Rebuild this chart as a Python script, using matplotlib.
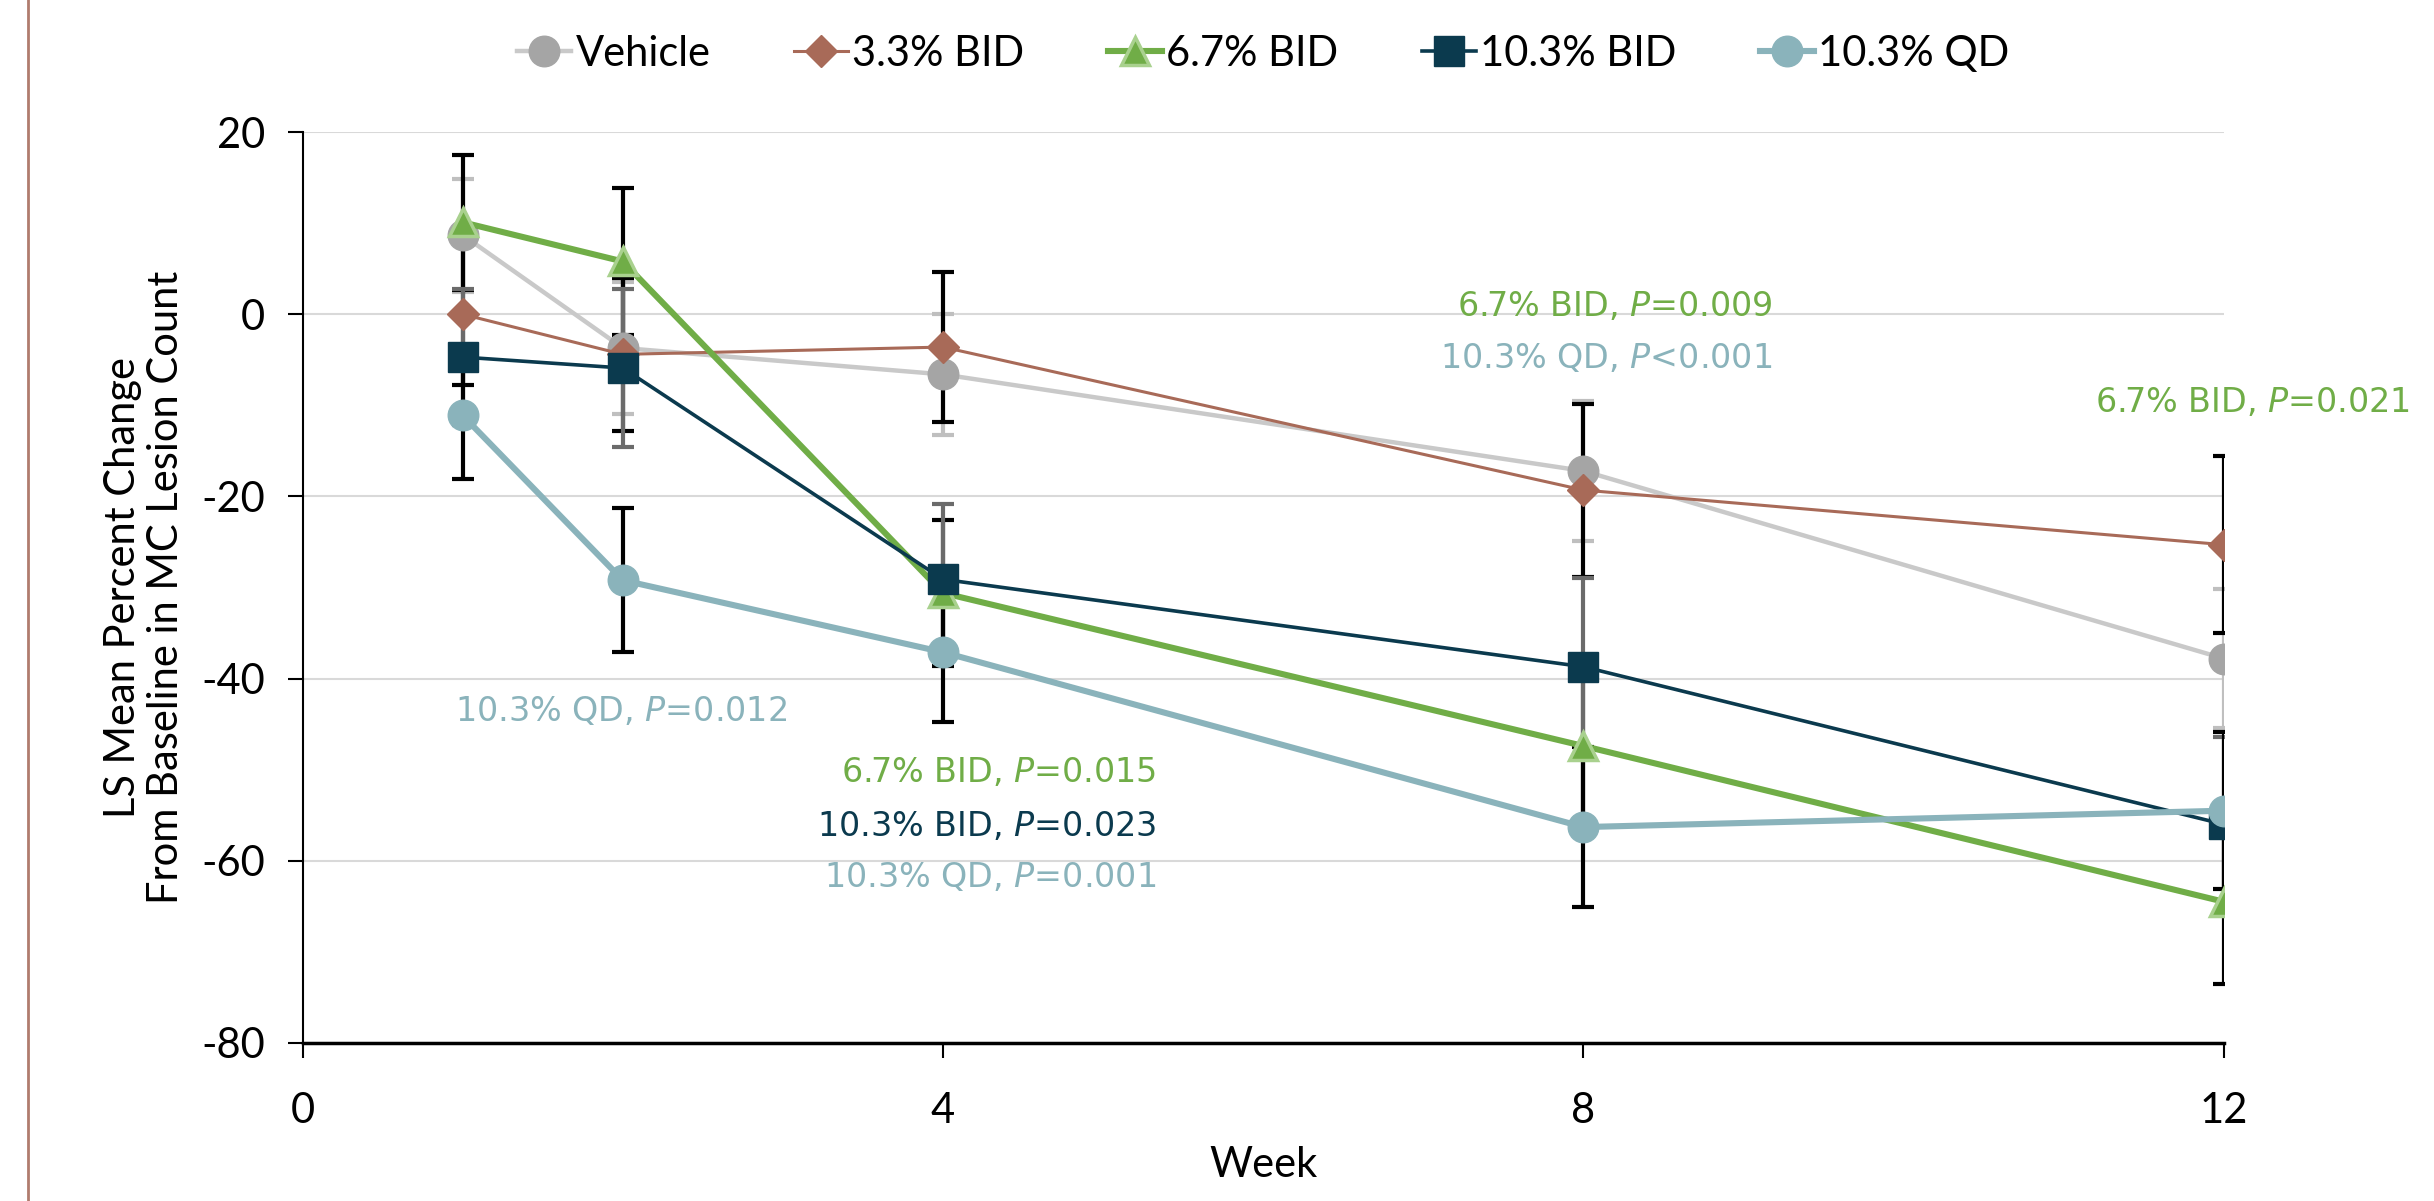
import matplotlib
matplotlib.use("Agg")
import matplotlib.pyplot as plt
from matplotlib.lines import Line2D

# data
weeks = [1, 2, 4, 8, 12]

vehicle = [8.7, -3.7, -6.6, -17.2, -37.8]
vehicle_se = [6.2, 7.2, 6.6, 7.7, 7.6]

bid_33 = [0.0, -4.4, -3.6, -19.3, -25.3]
bid_33_se = [7.8, 8.4, 8.2, 9.5, 9.7]

bid_67 = [10.1, 5.8, -30.6, -47.4, -64.5]
bid_67_se = [7.4, 8.1, 8.0, 9.0, 9.0]

bid_103 = [-4.7, -5.9, -29.1, -38.7, -56.0]
bid_103_se = [7.5, 8.7, 8.3, 9.7, 9.6]

qd_103 = [-11.1, -29.2, -37.1, -56.3, -54.5]
qd_103_se = [7.0, 7.9, 7.7, 8.8, 8.6]

labels = ["Vehicle", "3.3% BID", "6.7% BID", "10.3% BID", "10.3% QD"]
x_ticks = [0, 4, 8, 12]
y_ticks = [-80, -60, -40, -20, 0, 20]

# p-value notes: (x, y, text, colour key, alignment)
notes = [
    (9.18, 0.9, r"6.7% BID, $\mathit{P}$=0.009", "g", "right"),
    (9.18, -4.9, r"10.3% QD, $\mathit{P}$<0.001", "q", "right"),
    (13.16, -9.7, r"6.7% BID, $\mathit{P}$=0.021", "g", "right"),
    (0.95, -43.6, r"10.3% QD, $\mathit{P}$=0.012", "q", "left"),
    (5.33, -50.3, r"6.7% BID, $\mathit{P}$=0.015", "g", "right"),
    (5.33, -56.2, r"10.3% BID, $\mathit{P}$=0.023", "n", "right"),
    (5.33, -61.8, r"10.3% QD, $\mathit{P}$=0.001", "q", "right"),
]

c_veh_line = "#c9c9c9"
c_veh_mark = "#a5a5a5"
c_brown = "#a86a58"
c_green = "#70ad47"
c_green_edge = "#a9d18e"
c_navy = "#0b3a4e"
c_qd = "#8ab3bb"
note_colors = {"g": c_green, "q": c_qd, "n": c_navy}

plt.rcParams["axes.unicode_minus"] = False
plt.rcParams["font.family"] = ["Lato", "DejaVu Sans"]

fig = plt.figure(figsize=(24.34, 12.01), dpi=100)
ax = fig.add_axes([0.1243, 0.1316, 0.7894, 0.7584])

# error bars behind the lines
err_sets = [
    (vehicle, vehicle_se, "#bfbfbf"),
    (bid_33, bid_33_se, "black"),
    (bid_67, bid_67_se, "black"),
    (bid_103, bid_103_se, "#6b6b6b"),
    (qd_103, qd_103_se, "black"),
]
for vals, se, col in err_sets:
    ax.errorbar(weeks, vals, yerr=se, fmt="none", ecolor=col,
                elinewidth=3, capsize=8, capthick=3, zorder=2)

ax.plot(weeks, vehicle, color=c_veh_line, lw=3.2, marker="o", ms=22,
        mfc=c_veh_mark, mec=c_veh_mark, label=labels[0], zorder=3)
ax.plot(weeks, bid_33, color=c_brown, lw=2.2, marker="D", ms=16,
        mfc=c_brown, mec=c_brown, label=labels[1], zorder=4)
ax.plot(weeks, bid_67, color=c_green, lw=4.4, marker="^", ms=20,
        mfc=c_green, mec=c_green_edge, mew=2.5, label=labels[2], zorder=5)
ax.plot(weeks, bid_103, color=c_navy, lw=2.6, marker="s", ms=21,
        mfc=c_navy, mec=c_navy, label=labels[3], zorder=6)
ax.plot(weeks, qd_103, color=c_qd, lw=4.4, marker="o", ms=22,
        mfc=c_qd, mec=c_qd, label=labels[4], zorder=7)

for x, y, txt, ck, ha in notes:
    ax.text(x, y, txt, color=note_colors[ck], ha=ha, va="center",
            fontsize=24, family="DejaVu Sans", clip_on=False)

ax.set_xlim(0, 12)
ax.set_ylim(-80, 20)
ax.set_xticks(x_ticks)
ax.set_yticks(y_ticks)
ax.grid(axis="y", color="#d9d9d9", lw=1.5)
ax.set_axisbelow(True)
for s in ["top", "right"]:
    ax.spines[s].set_visible(False)
ax.spines["left"].set_linewidth(1.5)
ax.spines["bottom"].set_linewidth(2.5)
ax.tick_params(axis="both", labelsize=30, length=11, width=1.5, direction="out")
ax.tick_params(axis="y", pad=16)
ax.tick_params(axis="x", pad=24)

ax.set_xlabel("Week", fontsize=30, labelpad=12)
ax.set_ylabel("LS Mean Percent Change\nFrom Baseline in MC Lesion Count",
              fontsize=30, labelpad=12, linespacing=1.15)

fig.legend(loc="center", bbox_to_anchor=(0.519, 0.955), ncol=5, frameon=False,
           fontsize=30, handlelength=1.3, handletextpad=0.1, columnspacing=2.0,
           markerscale=1.0)

# thin vertical rule at the left edge of the slide
fig.add_artist(Line2D([0.0115, 0.0115], [0, 1], transform=fig.transFigure,
                      color="#b07c6e", lw=2))

fig.savefig("out.png", dpi=100)
